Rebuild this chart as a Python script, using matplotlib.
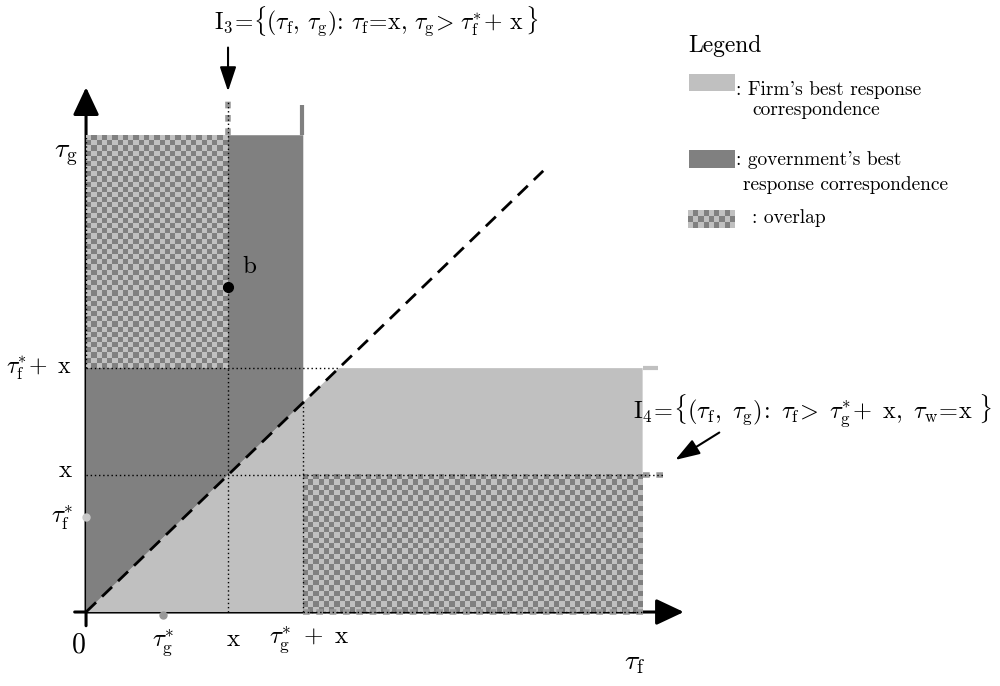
import numpy as np
import matplotlib.pyplot as plt
from matplotlib.colors import ListedColormap

plt.rcParams['mathtext.fontset'] = 'cm'

# positions on the axes (tau_f horizontal, tau_g vertical)
x_val = 1.0
tau_g_star = 0.54
tau_g_star_x = 1.53      # tau_g* + x on the tau_f axis
tau_f_star = 0.69
tau_f_star_x = 1.78      # tau_f* + x on the tau_g axis
tf_max = 3.92            # right end of the shaded sets
tg_max = 3.48            # top of the shaded sets
diag_end = 3.22
b_point = (1.0, 2.37)

light = '#c0c0c0'
dark = '#808080'
cell_x, cell_y = 0.037, 0.038


def checker(ax, x0, x1, y0, y1, zorder=3):
    # checkered fill for the overlap areas
    nx = max(1, int(round((x1 - x0) / cell_x)))
    ny = max(1, int(round((y1 - y0) / cell_y)))
    board = np.add.outer(np.arange(ny), np.arange(nx)) % 2
    ax.imshow(board, cmap=ListedColormap([light, dark]), extent=(x0, x1, y0, y1),
              origin='lower', interpolation='nearest', aspect='auto', zorder=zorder)


fig = plt.figure(figsize=(10, 6.86), dpi=100)
ax = fig.add_axes([0, 0, 1, 1])

# axes with arrows (under the fills)
arrow = dict(arrowstyle='-|>,head_length=0.85,head_width=0.4', lw=2.2, color='k',
             mutation_scale=20, shrinkA=0, shrinkB=0)
ax.annotate('', xy=(4.21, 0), xytext=(-0.08, 0), arrowprops=arrow, zorder=1)
ax.annotate('', xy=(0, 3.83), xytext=(0, -0.1), arrowprops=arrow, zorder=1)

# firm's best response
firm = [(0, 0), (tau_f_star_x, tau_f_star_x), (tf_max, tau_f_star_x), (tf_max, 0)]
ax.fill([p[0] for p in firm], [p[1] for p in firm], color=light, lw=0, zorder=2)
ax.plot([tf_max, 4.03], [tau_f_star_x] * 2, color=light, lw=3, solid_capstyle='butt', zorder=2)

# government's best response
gov = [(0, 0), (tau_g_star_x, tau_g_star_x), (tau_g_star_x, tg_max), (0, tg_max)]
ax.fill([p[0] for p in gov], [p[1] for p in gov], color=dark, lw=0, zorder=2)
ax.plot([tau_g_star_x - 0.01] * 2, [tg_max, 3.70], color=dark, lw=3, solid_capstyle='butt', zorder=2)

# overlaps
checker(ax, 0, x_val, tau_f_star_x, tg_max)
checker(ax, tau_g_star_x, tf_max, 0, x_val)

# dotted guides
dot = dict(color='k', lw=1, linestyle=(0, (1, 2)), zorder=5)
gdot = dict(color='#999999', lw=4, linestyle=(0, (1.2, 1.2)), solid_capstyle='butt', zorder=4)
ax.plot([x_val, x_val], [tg_max, 3.74], **gdot)
ax.plot([tf_max, 4.08], [x_val, x_val], **gdot)
ax.plot([tau_g_star_x, tf_max], [0, 0], **gdot)
ax.plot([0, tau_f_star_x], [tau_f_star_x] * 2, **dot)
ax.plot([0, 4.08], [x_val, x_val], **dot)
ax.plot([x_val, x_val], [0, 3.74], **dot)
ax.plot([tau_g_star_x] * 2, [0, tau_g_star_x], **dot)
ax.plot([0, 0], [tau_f_star_x, tg_max], **dot)
ax.plot([tau_g_star_x, tf_max], [0, 0], **dot)

# 45 degree line
ax.plot([0, diag_end], [0, diag_end], color='k', lw=2, linestyle=(0, (5, 3)), zorder=6)

# points
ax.plot(*b_point, 'o', color='k', ms=7, zorder=7)
ax.text(b_point[0] + 0.15, b_point[1] + 0.15, 'b', fontsize=18, family='cmr10',
        ha='center', va='center')
ax.plot(0, tau_f_star, 'o', color='#c8c8c8', ms=5, zorder=7)
ax.plot(tau_g_star, -0.02, 'o', color='#999999', ms=5, zorder=7)

# axis labels
fs = 18
ax.text(-0.06, 3.34, r'$\tau_\mathrm{g}$', fontsize=20, ha='right', va='center')
ax.text(-0.1, tau_f_star_x, r'$\tau_\mathrm{f}^{*}\!+\ \mathrm{x}$', fontsize=17, ha='right', va='center')
ax.text(-0.09, x_val + 0.04, r'$\mathrm{x}$', fontsize=fs, ha='right', va='center')
ax.text(-0.09, tau_f_star, r'$\tau_\mathrm{f}^{*}$', fontsize=fs, ha='right', va='center')
ax.text(-0.056, -0.24, r'$\mathrm{0}$', fontsize=20, ha='center', va='center')
ax.text(tau_g_star, -0.22, r'$\tau_\mathrm{g}^{*}$', fontsize=fs, ha='center', va='center')
ax.text(x_val + 0.04, -0.2, r'$\mathrm{x}$', fontsize=fs, ha='center', va='center')
ax.text(tau_g_star_x + 0.04, -0.2, r'$\tau_\mathrm{g}^{*}\ +\ \mathrm{x}$', fontsize=fs,
        ha='center', va='center')
ax.text(3.86, -0.365, r'$\tau_\mathrm{f}$', fontsize=20, ha='center', va='center')

# set annotations
ax.text(2.04, 4.31,
        r'$\mathrm{I}_3\!=\!\{(\tau_\mathrm{f},\,\tau_\mathrm{g})\!:\,\tau_\mathrm{f}\!=\!\mathrm{x},'
        r'\,\tau_\mathrm{g}\!>\,\tau_\mathrm{f}^{*}\!+\,\mathrm{x}\,\}$',
        fontsize=17, ha='center', va='center')
ax.annotate('', xy=(x_val, 3.80), xytext=(x_val, 4.12),
            arrowprops=dict(arrowstyle='-|>,head_length=0.75,head_width=0.25', lw=1.5,
                            color='k', mutation_scale=20, shrinkA=0, shrinkB=0))
ax.text(3.85, 1.47,
        r'$\mathrm{I}_4\!=\!\{(\tau_\mathrm{f},\ \tau_\mathrm{g})\!:\ \tau_\mathrm{f}\!>\ \tau_\mathrm{g}^{*}\!+\ \mathrm{x},'
        r'\ \tau_\mathrm{w}\!=\!\mathrm{x}\ \}$',
        fontsize=17.5, ha='left', va='center')
ax.annotate('', xy=(4.15, 1.11), xytext=(4.46, 1.31),
            arrowprops=dict(arrowstyle='-|>,head_length=0.75,head_width=0.25', lw=1.5,
                            color='k', mutation_scale=20, shrinkA=0, shrinkB=0))

# legend
lx0, lx1 = 4.25, 4.57
ax.text(4.24, 4.09, 'Legend', family='cmr10', fontsize=17, va='baseline')
ax.fill([lx0, lx1, lx1, lx0], [3.80, 3.80, 3.93, 3.93], color=light, lw=0)
ax.text(4.58, 3.77, ": Firm's best response", family='cmr10', fontsize=14, va='baseline')
ax.text(4.69, 3.63, 'correspondence', family='cmr10', fontsize=14, va='baseline')
ax.fill([lx0, lx1, lx1, lx0], [3.24, 3.24, 3.37, 3.37], color=dark, lw=0)
ax.text(4.58, 3.26, ": government's best", family='cmr10', fontsize=14, va='baseline')
ax.text(4.63, 3.08, 'response correspondence', family='cmr10', fontsize=14, va='baseline')
checker(ax, 4.24, lx1, 2.80, 2.93)
ax.text(4.69, 2.84, ': overlap', family='cmr10', fontsize=14, va='baseline')

ax.set_xlim(-0.606, 6.437)
ax.set_ylim(-0.540, 4.467)
ax.axis('off')
fig.savefig('out.png', dpi=100)
